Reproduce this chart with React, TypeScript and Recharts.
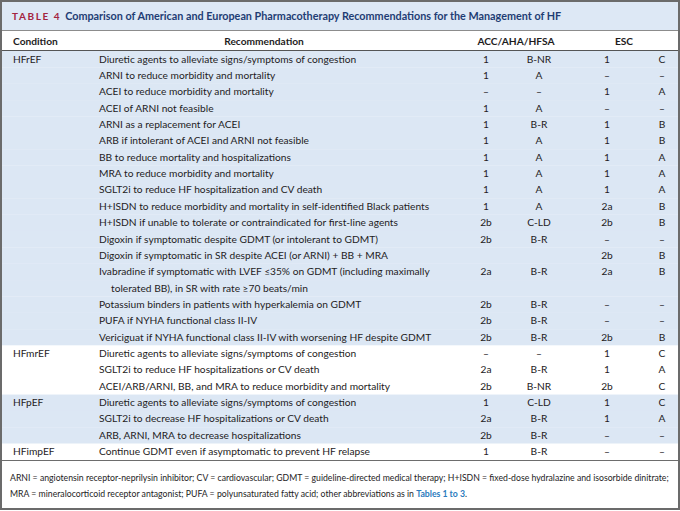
import { Bar, BarChart, Customized, XAxis, YAxis } from "recharts";

// one entry per printed line of the table body
const groupNames = ["HFrEF", "HFmrEF", "HFpEF", "HFimpEF"];
const groupLines = [18, 3, 3, 1];

const recommendations = [
  "Diuretic agents to alleviate signs/symptoms of congestion",
  "ARNI to reduce morbidity and mortality",
  "ACEI to reduce morbidity and mortality",
  "ACEI of ARNI not feasible",
  "ARNI as a replacement for ACEI",
  "ARB if intolerant of ACEI and ARNI not feasible",
  "BB to reduce mortality and hospitalizations",
  "MRA to reduce morbidity and mortality",
  "SGLT2i to reduce HF hospitalization and CV death",
  "H+ISDN to reduce morbidity and mortality in self-identified Black patients",
  "H+ISDN if unable to tolerate or contraindicated for first-line agents",
  "Digoxin if symptomatic despite GDMT (or intolerant to GDMT)",
  "Digoxin if symptomatic in SR despite ACEI (or ARNI) + BB + MRA",
  "Ivabradine if symptomatic with LVEF \u226435% on GDMT (including maximally",
  "tolerated BB), in SR with rate \u226570 beats/min",
  "Potassium binders in patients with hyperkalemia on GDMT",
  "PUFA if NYHA functional class II-IV",
  "Vericiguat if NYHA functional class II-IV with worsening HF despite GDMT",
  "Diuretic agents to alleviate signs/symptoms of congestion",
  "SGLT2i to reduce HF hospitalizations or CV death",
  "ACEI/ARB/ARNI, BB, and MRA to reduce morbidity and mortality",
  "Diuretic agents to alleviate signs/symptoms of congestion",
  "SGLT2i to decrease HF hospitalizations or CV death",
  "ARB, ARNI, MRA to decrease hospitalizations",
  "Continue GDMT even if asymptomatic to prevent HF relapse",
];

// line that continues the previous recommendation
const continuation = [14];

const D = "\u2013";
const accClass = ["1", "1", D, "1", "1", "1", "1", "1", "1", "1", "2b", "2b", "", "2a", "", "2b", "2b", "2b", D, "2a", "2b", "1", "2a", "2b", "1"];
const accLoe = ["B-NR", "A", D, "A", "B-R", "A", "A", "A", "A", "A", "C-LD", "B-R", "", "B-R", "", "B-R", "B-R", "B-R", D, "B-R", "B-NR", "C-LD", "B-R", "B-R", "B-R"];
const escClass = ["1", D, "1", D, "1", "1", "1", "1", "1", "2a", "2b", D, "2b", "2a", "", D, D, "2b", "1", "1", "2b", "1", "1", D, D];
const escLoe = ["C", D, "A", D, "B", "B", "A", "A", "A", "B", "B", D, "B", "B", "", D, D, "B", "C", "A", "C", "C", "A", D, D];

const footnote1 =
  "ARNI = angiotensin receptor-neprilysin inhibitor; CV = cardiovascular; GDMT = guideline-directed medical therapy; H+ISDN = fixed-dose hydralazine and isosorbide dinitrate;";
const footnote2a = "MRA = mineralocorticoid receptor antagonist; PUFA = polyunsaturated fatty acid; other abbreviations as in ";
const footnote2b = "Tables 1 to 3";

const W = 680;
const H = 511;
const FONT = 'Lato, "Open Sans", sans-serif';
const INK = "#1e1c1d";
const BAND = "#dce7f4";

const COL = {
  cond: 13,
  rec: 99,
  recIndent: 111,
  accClass: 486,
  accLoe: 539,
  escClass: 607,
  escLoe: 662,
};

const rows: any[] = [];
groupLines.forEach((n, g) => {
  for (let k = 0; k < n; k++) {
    const i = rows.length;
    rows.push({
      key: "r" + i,
      span: 1,
      group: g,
      cond: k === 0 ? groupNames[g] : "",
      rec: recommendations[i],
      cont: continuation.includes(i),
      accClass: accClass[i],
      accLoe: accLoe[i],
      escClass: escClass[i],
      escLoe: escLoe[i],
    });
  }
});

const RowShape = (props: any) => {
  const { x, y, width, height, payload } = props;
  const cy = y + height / 2;
  const cell = (tx: number, txt: string, anchor: "start" | "middle") =>
    txt ? (
      <text x={tx} y={cy} dy="0.35em" textAnchor={anchor} fontSize={10.2} fill={INK} fontFamily={FONT}>
        {txt}
      </text>
    ) : null;
  return (
    <g>
      <rect x={x} y={y} width={width} height={height + 0.5} fill={payload.group % 2 === 0 ? BAND : "#ffffff"} />
      {cell(COL.cond, payload.cond, "start")}
      {cell(payload.cont ? COL.recIndent : COL.rec, payload.rec, "start")}
      {cell(COL.accClass, payload.accClass, "middle")}
      {cell(COL.accLoe, payload.accLoe, "middle")}
      {cell(COL.escClass, payload.escClass, "middle")}
      {cell(COL.escLoe, payload.escLoe, "middle")}
    </g>
  );
};

const Frame = () => (
  <g fontFamily={FONT}>
    <rect x={2} y={2} width={W - 4} height={28} fill="#dde8f5" />
    <text x={12} y={16} dy="0.35em" fontSize={10.8} fontWeight={700}>
      <tspan fill="#a3243f" letterSpacing={1.6} fontSize={10}>TABLE 4</tspan>
      <tspan dx={4} fill="#1f3d74">
        Comparison of American and European Pharmacotherapy Recommendations for the Management of HF
      </tspan>
    </text>
    <line x1={2} x2={W - 2} y1={30.5} y2={30.5} stroke="#8c8c8c" strokeWidth={1} />
    <g fontSize={10.2} fontWeight={700} fill={INK}>
      <text x={COL.cond} y={41} dy="0.35em">Condition</text>
      <text x={264} y={41} dy="0.35em" textAnchor="middle">Recommendation</text>
      <text x={516} y={41} dy="0.35em" textAnchor="middle">ACC/AHA/HFSA</text>
      <text x={624} y={41} dy="0.35em" textAnchor="middle">ESC</text>
    </g>
    <line x1={2} x2={W - 2} y1={50.5} y2={50.5} stroke="#555" strokeWidth={1.2} />
    <line x1={2} x2={W - 2} y1={460.5} y2={460.5} stroke="#555" strokeWidth={1.2} />
    <g fontSize={8.7} fill={INK}>
      <text x={10} y={478} dy="0.35em">{footnote1}</text>
      <text x={10} y={494} dy="0.35em">
        {footnote2a}
        <tspan fill="#2b7bbd" fontWeight={700}>{footnote2b}</tspan>.
      </text>
    </g>
    <rect x={1} y={1} width={W - 2} height={H - 3} fill="none" stroke="#6b6b6b" strokeWidth={2} />
  </g>
);

export default function App() {
  return (
    <div style={{ position: "absolute", left: 0, top: 0, width: W, height: H, background: "#fff" }}>
      <BarChart
        width={W}
        height={H}
        data={rows}
        layout="vertical"
        barCategoryGap={0}
        margin={{ top: 51, right: 2, bottom: H - 460, left: 2 }}
      >
        <XAxis type="number" domain={[0, 1]} hide />
        <YAxis type="category" dataKey="key" hide />
        <Bar dataKey="span" shape={RowShape} isAnimationActive={false} />
        <Customized component={Frame} />
      </BarChart>
    </div>
  );
}
